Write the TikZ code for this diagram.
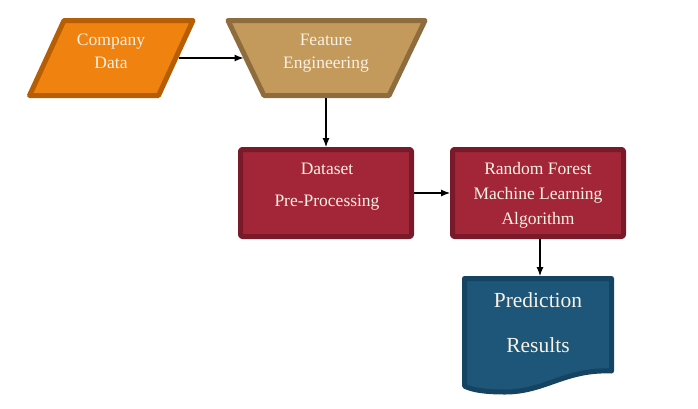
\documentclass[tikz,border=0pt]{standalone}
\usepackage{fontspec}
\setmainfont{Liberation Serif}
\usetikzlibrary{arrows.meta}
\definecolor{orfill}{HTML}{F0820F}
\definecolor{ordraw}{HTML}{B65E05}
\definecolor{brfill}{HTML}{C49A5C}
\definecolor{brdraw}{HTML}{8E6C3E}
\definecolor{rdfill}{HTML}{A32638}
\definecolor{rddraw}{HTML}{781A2A}
\definecolor{blfill}{HTML}{1D5679}
\definecolor{bldraw}{HTML}{154462}
\definecolor{txt}{HTML}{F8F1E4}
\begin{document}
\begin{tikzpicture}[x=1pt,y=-1pt,
  shp/.style={line width=5pt,line join=round,inner sep=0pt,outer sep=2.5pt},
  lbl/.style={text=txt,font=\fontsize{17.5}{20}\selectfont,inner sep=0pt},
  biglbl/.style={text=txt,font=\fontsize{21.5}{24}\selectfont,inner sep=0pt},
  arr/.style={-{Latex[length=9pt,width=7pt]},line width=1.1pt,black},
  boxstyle/.style={shp,rectangle,rounded corners=2pt,minimum width=171pt,minimum height=87pt,fill=rdfill,draw=rddraw}]
\useasboundingbox[fill=white] (0,0) rectangle (698,408);

% Company Data (parallelogram)
\draw[line width=5pt,line join=round,fill=orfill,draw=ordraw]
  (29.5,95.5) -- (64,20.5) -- (193,20.5) -- (158.5,95.5) -- cycle;
\coordinate (cdout) at (178.5,58);
% Feature Engineering (inverted trapezoid)
\draw[line width=5pt,line join=round,fill=brfill,draw=brdraw]
  (228,20.5) -- (425,20.5) -- (389,95.5) -- (264,95.5) -- cycle;
\coordinate (fein) at (243.5,58);
\coordinate (feout) at (326,98);

\node[boxstyle] (ds) at (326,193) {};
\node[boxstyle] (rf) at (538,193) {};
\node[inner sep=0pt,outer sep=0pt,minimum width=152pt,minimum height=110pt] (pr) at (538,331) {};
\draw[line width=5pt,line join=round,fill=blfill,draw=bldraw]
  (464.5,278.5) -- (611.5,278.5) -- (611.5,371)
  .. controls (565,369) and (545,392) .. (505,392)
  .. controls (485,392) and (472,390) .. (464.5,386) -- cycle;

\node[lbl] (t1) at (111,42) {Company};
\node[lbl] (t2) at (111,63) {Data};
\node[lbl] (t3) at (326,40) {Feature};
\node[lbl] (t4) at (326,65) {Engineering};
\node[lbl] (t5) at (327,169) {Dataset};
\node[lbl] (t6) at (327,203) {Pre-Processing};
\node[lbl] (t7) at (538,169) {Random Forest};
\node[lbl] (t8) at (538,195) {Machine Learning};
\node[lbl] (t9) at (538,220) {Algorithm};
\node[biglbl] (t10) at (538,300) {Prediction};
\node[biglbl] (t11) at (538,345) {Results};

\draw[arr] (cdout) -- (fein);
\draw[arr] (feout) -- (feout |- ds.north);
\draw[arr] (ds) -- (rf);
\draw[arr] ([xshift=2pt]rf.south) -- ([xshift=2pt]pr.north);
\end{tikzpicture}
\end{document}
